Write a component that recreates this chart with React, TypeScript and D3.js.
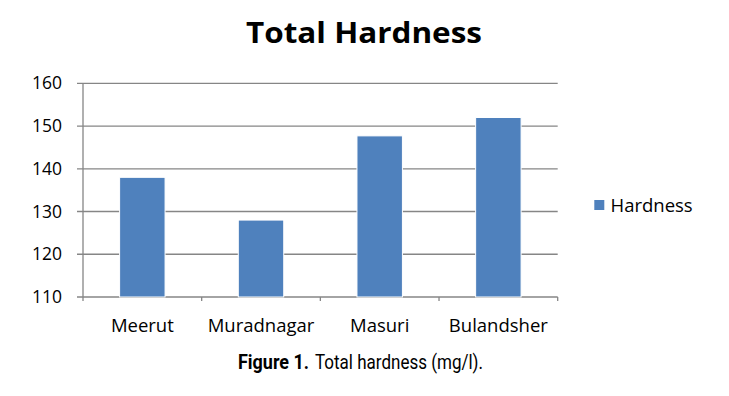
import React from "react";
import * as d3 from "d3";

const categories = ["Meerut", "Muradnagar", "Masuri", "Bulandsher"];
const hardness = [138, 128, 147.7, 152];
const yTicks = [110, 120, 130, 140, 150, 160];
const seriesName = "Hardness";
const title = "Total Hardness";
const captionBold = "Figure 1.";
const captionRest = "Total hardness (mg/l).";

const W = 729;
const H = 396;
const left = 83;
const right = 557.7;
const top = 83.3;
const bottom = 297;
const axisColor = "#868686";
const barColor = "#4F81BD";
const font = "'Open Sans', 'Noto Sans', sans-serif";

export default function App() {
  const x = d3
    .scaleBand<string>()
    .domain(categories)
    .range([left, right])
    .paddingInner(0.617)
    .paddingOuter(0.3085);
  const y = d3.scaleLinear().domain([110, 160]).range([bottom, top]);
  const step = (right - left) / categories.length;
  const boundaries = d3.range(categories.length + 1).map((i) => left + i * step);

  return (
    <svg
      width={W}
      height={H}
      style={{ position: "absolute", left: 0, top: 0, background: "#fff" }}
    >
      <text
        x={364}
        y={43}
        textAnchor="middle"
        fontFamily={font}
        fontWeight="bold"
        fontSize={28}
        textLength={236}
        lengthAdjust="spacingAndGlyphs"
        fill="#000"
      >
        {title}
      </text>
      {yTicks.map((t) => (
        <g key={t}>
          <line
            x1={left - 6}
            x2={right}
            y1={y(t)}
            y2={y(t)}
            stroke={axisColor}
            strokeWidth={1.3}
          />
          <text
            x={62}
            y={y(t) + 6}
            textAnchor="end"
            fontFamily={font}
            fontSize={17.5}
            fill="#000"
          >
            {t}
          </text>
        </g>
      ))}
      <line x1={left} x2={left} y1={top} y2={bottom + 4} stroke={axisColor} strokeWidth={1.3} />
      {boundaries.slice(1).map((b, i) => (
        <line key={i} x1={b} x2={b} y1={bottom} y2={bottom + 4} stroke={axisColor} strokeWidth={1.3} />
      ))}
      {categories.map((c, i) => (
        <rect
          key={c}
          x={x(c)}
          y={y(hardness[i])}
          width={x.bandwidth()}
          height={bottom - y(hardness[i])}
          fill={barColor}
          stroke="#fff"
          strokeWidth={1}
        />
      ))}
      {categories.map((c) => (
        <text
          key={c}
          x={(x(c) as number) + x.bandwidth() / 2}
          y={332}
          textAnchor="middle"
          fontFamily={font}
          fontSize={18.5}
          fill="#000"
        >
          {c}
        </text>
      ))}
      <rect x={594.3} y={200} width={10} height={10} fill={barColor} />
      <text x={610.5} y={212.3} fontFamily={font} fontSize={18.5} fill="#000">
        {seriesName}
      </text>
      <text y={369} fontFamily="Roboto, 'Noto Sans', sans-serif" fontSize={19.5} fill="#000">
        <tspan x={238} fontWeight="bold" textLength={71} lengthAdjust="spacingAndGlyphs">
          {captionBold}
        </tspan>
        <tspan x={315} textLength={168} lengthAdjust="spacingAndGlyphs">
          {captionRest}
        </tspan>
      </text>
    </svg>
  );
}
